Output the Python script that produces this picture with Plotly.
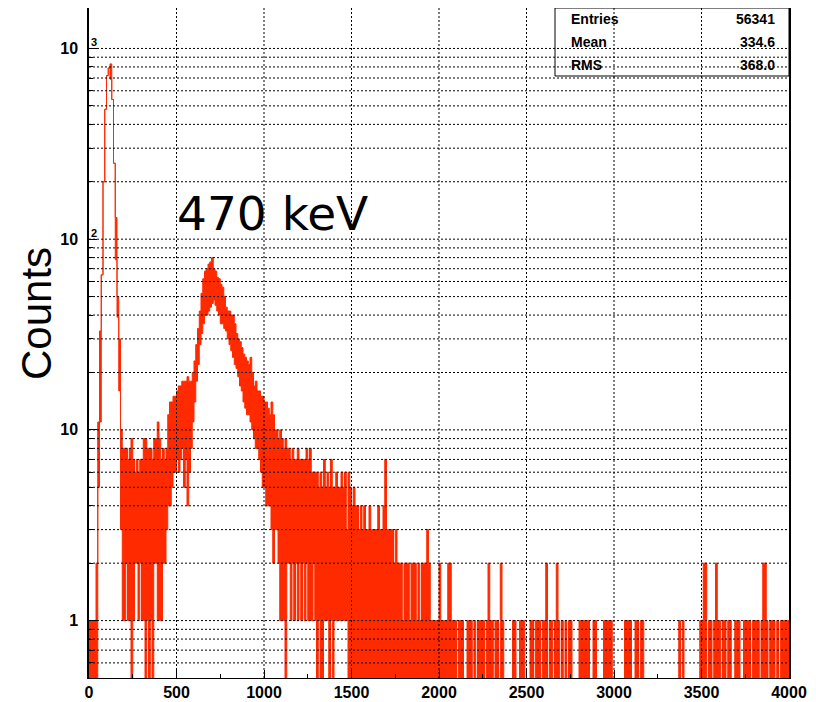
import math
import plotly.graph_objects as go

# ---------------- data ----------------
bin_width = 10          # channels per bin (0 .. 4000)

# upper envelope of the counts in each 10-channel bin
counts_hi = [
    1, 1, 1, 1, 2, 11, 33, 65, 200, 480,
    720, 790, 830, 540, 250, 130, 50, 30, 10, 8,
    8, 8, 7, 8, 9, 7, 6, 7, 6, 7,
    7, 9, 9, 8, 8, 8, 7, 9, 9, 11,
    9, 7, 8, 7, 8, 12, 14, 14, 15, 15,
    16, 17, 17, 18, 18, 18, 19, 18, 18, 20,
    23, 28, 34, 42, 52, 62, 68, 70, 74, 76,
    80, 70, 68, 63, 62, 58, 56, 50, 44, 42,
    42, 40, 40, 36, 32, 30, 29, 27, 25, 24,
    23, 22, 24, 20, 17, 18, 16, 16, 15, 15,
    14, 14, 13, 12, 14, 12, 10, 10, 9, 10,
    9, 8, 9, 8, 8, 7, 8, 7, 7, 8,
    7, 7, 7, 7, 8, 7, 8, 6, 6, 6,
    6, 5, 6, 5, 7, 5, 6, 5, 7, 5,
    5, 6, 5, 5, 6, 5, 6, 3, 6, 5,
    4, 5, 4, 4, 3, 4, 3, 4, 3, 3,
    4, 3, 3, 3, 3, 4, 3, 3, 4, 7,
    3, 3, 3, 3, 2, 3, 2, 2, 2, 1,
    2, 2, 2, 1, 2, 2, 2, 1, 2, 1,
    2, 2, 2, 3, 2, 1, 1, 1, 1, 1,
    2, 1, 1, 1, 1, 2, 2, 1, 1, 1,
    0, 1, 1, 1, 0, 0, 1, 1, 1, 0,
    1, 0, 1, 1, 1, 1, 0, 1, 2, 1,
    1, 0, 1, 1, 0, 2, 1, 0, 0, 0,
    0, 0, 1, 1, 0, 0, 1, 1, 1, 0,
    0, 0, 1, 1, 0, 1, 1, 1, 0, 1,
    1, 2, 0, 1, 1, 0, 1, 2, 1, 0,
    1, 0, 1, 0, 1, 1, 0, 0, 0, 0,
    1, 1, 1, 1, 1, 1, 0, 0, 1, 1,
    0, 0, 0, 0, 1, 1, 1, 1, 1, 0,
    0, 0, 0, 0, 0, 0, 1, 1, 1, 1,
    0, 0, 1, 1, 0, 1, 1, 0, 0, 0,
    0, 0, 0, 0, 0, 0, 0, 0, 0, 0,
    0, 0, 0, 0, 0, 0, 0, 1, 0, 1,
    0, 0, 0, 0, 0, 0, 0, 0, 0, 1,
    1, 2, 2, 0, 1, 1, 0, 1, 2, 1,
    1, 0, 1, 1, 0, 1, 1, 0, 0, 1,
    1, 1, 0, 0, 1, 1, 1, 1, 0, 1,
    1, 1, 1, 0, 1, 2, 2, 1, 0, 1,
    1, 1, 0, 1, 0, 1, 1, 1, 1, 1,
]

# lower envelope of the counts in each 10-channel bin (zeros beyond 1500)
counts_lo = [
    0, 0, 0, 0, 0, 5, 11, 65, 200, 480,
    720, 790, 690, 540, 250, 78, 39, 16, 3, 1,
    1, 2, 1, 1, 0, 1, 2, 2, 1, 2,
    1, 1, 0, 1, 0, 1, 0, 2, 2, 1,
    1, 1, 2, 2, 3, 4, 4, 5, 6, 6,
    7, 6, 7, 8, 5, 7, 4, 6, 8, 11,
    14, 18, 22, 28, 32, 36, 40, 40, 42, 44,
    46, 48, 45, 42, 40, 36, 36, 34, 33, 30,
    28, 26, 24, 22, 21, 19, 17, 16, 14, 13,
    12, 12, 11, 10, 9, 8, 8, 7, 6, 5,
    5, 4, 4, 4, 3, 2, 3, 3, 2, 1,
    1, 1, 0, 2, 2, 1, 2, 1, 2, 1,
    2, 1, 2, 1, 2, 1, 1, 1, 2, 1,
    0, 1, 0, 0, 1, 1, 1, 0, 1, 0,
    1, 1, 1, 1, 1, 1, 1, 1, 0, 0,
] + [0] * 250

x_tick_vals = [0, 500, 1000, 1500, 2000, 2500, 3000, 3500, 4000]
x_tick_text = ["0", "500", "1000", "1500", "2000", "2500", "3000", "3500", "4000"]
y_tick_vals = [1, 10, 100, 1000]
y_tick_text = ["1", "10", "10", "10"]
y_exponents = {"3": 1000, "2": 100}

stats_labels = ["Entries", "Mean", "RMS"]
stats_values = ["56341", "334.6", "368.0"]
peak_label = "470 keV"
y_title = "Counts"

# ---------------- geometry ----------------
PAGE_OFF = 8            # default body margin of the html page
W, H = 816 - PAGE_OFF, 702 - PAGE_OFF
L, R, T, B = 89, 789, 8, 678        # plot area in window pixels
y_min, y_max = 0.5, 1630.0
ly0, ly1 = math.log10(y_min), math.log10(y_max)
RED = "#ff2a00"
FLOOR = 0.1  # empty bins are drawn below the visible range


def px(x, y):
    return (x - L) / (R - L), 1 - (y - T) / (B - T)


def ypaper(v):
    return (math.log10(v) - ly0) / (ly1 - ly0)


n = len(counts_hi)
edges = [i * bin_width for i in range(n + 1)]
xs = edges[:-1] + [edges[-1]]
hi_plot = [v if v > 0 else FLOOR for v in counts_hi] + [counts_hi[-1] if counts_hi[-1] > 0 else FLOOR]
lo_plot = [v if v > 0 else FLOOR for v in counts_lo] + [counts_lo[-1] if counts_lo[-1] > 0 else FLOOR]

fig = go.Figure()
fig.add_trace(go.Scatter(x=xs, y=lo_plot, mode="lines", line=dict(color=RED, width=1, shape="hv"),
                         hoverinfo="skip", showlegend=False))
fig.add_trace(go.Scatter(x=xs, y=hi_plot, mode="lines", line=dict(color=RED, width=1, shape="hv"),
                         fill="tonexty", fillcolor=RED, hoverinfo="skip", showlegend=False))

shapes = []
grid_line = dict(color="black", width=1, dash="2px,2px")
for xv in x_tick_vals[1:-1]:
    shapes.append(dict(type="line", xref="x", yref="paper", x0=xv, x1=xv, y0=0, y1=1,
                       line=grid_line, layer="above"))
ygrid = [0.6, 0.7, 0.8, 0.9] + [m * 10 ** d for d in range(3) for m in range(1, 10)] + [1000]
for yv in ygrid:
    p = ypaper(yv)
    shapes.append(dict(type="line", xref="paper", yref="paper", x0=0, x1=1, y0=p, y1=p,
                       line=grid_line, layer="above"))
# statistics box
bx0, by0 = px(555, 76)
shapes.append(dict(type="rect", xref="paper", yref="paper", x0=bx0, x1=1, y0=by0, y1=1,
                   line=dict(color="black", width=1), fillcolor="rgba(0,0,0,0)", layer="above"))

annotations = []
stat_font = dict(family="Liberation Sans", size=14, color="black", weight="bold")
for i, (lab, val) in enumerate(zip(stats_labels, stats_values)):
    yy = 19 + i * 23
    ax_, ay_ = px(569, yy)
    annotations.append(dict(xref="paper", yref="paper", x=ax_, y=ay_, text=lab, showarrow=False,
                            xanchor="left", yanchor="middle", font=stat_font))
    ax_, ay_ = px(777, yy)
    annotations.append(dict(xref="paper", yref="paper", x=ax_, y=ay_, text=val, showarrow=False,
                            xanchor="right", yanchor="middle", font=stat_font))

for e, yv in y_exponents.items():
    ax_ = px(94, 0)[0]
    ay_ = ypaper(yv) + 6 / (B - T)
    annotations.append(dict(xref="paper", yref="paper", x=ax_, y=ay_, text=e, showarrow=False,
                            xanchor="center", yanchor="middle",
                            font=dict(family="Liberation Sans", size=11, color="black", weight="bold")))

ax_, ay_ = px(272, 213)
annotations.append(dict(xref="paper", yref="paper", x=ax_, y=ay_, text=peak_label, showarrow=False,
                        xanchor="center", yanchor="middle",
                        font=dict(family="DejaVu Sans", size=47, color="black")))
ax_, ay_ = px(36, 313)
annotations.append(dict(xref="paper", yref="paper", x=ax_, y=ay_, text=y_title, showarrow=False,
                        textangle=-90, xanchor="center", yanchor="middle",
                        font=dict(family="Liberation Sans", size=42, color="black")))

tick_font = dict(family="Liberation Sans", size=16, color="black", weight="bold")
fig.update_xaxes(range=[0, 4000], tickmode="array", tickvals=x_tick_vals, ticktext=x_tick_text,
                 ticks="inside", ticklen=8, tickcolor="black", showgrid=False, zeroline=False,
                 showline=True, mirror=True, linecolor="black", linewidth=1, tickfont=tick_font,
                 minor=dict(tickvals=[250 + 500 * k for k in range(8)], ticks="inside", ticklen=4,
                            tickcolor="black", showgrid=False))
minor_y = [m * 10 ** d for d in range(-1, 4) for m in range(2, 10) if y_min <= m * 10 ** d <= y_max]
fig.update_yaxes(type="log", range=[ly0, ly1], tickmode="array", tickvals=y_tick_vals, ticktext=y_tick_text,
                 ticks="inside", ticklen=8, tickcolor="black", showgrid=False, zeroline=False,
                 showline=True, mirror=True, linecolor="black", linewidth=1.5, tickfont=tick_font,
                 ticklabelstandoff=6,
                 minor=dict(tickvals=minor_y, ticks="inside", ticklen=4, tickcolor="black", showgrid=False))

fig.update_layout(width=W, height=H,
                  margin=dict(l=L - PAGE_OFF, r=(W + PAGE_OFF) - R, t=T - PAGE_OFF, b=(H + PAGE_OFF) - B, pad=0),
                  paper_bgcolor="white", plot_bgcolor="white", shapes=shapes, annotations=annotations,
                  showlegend=False)

fig.write_html("out.html")
